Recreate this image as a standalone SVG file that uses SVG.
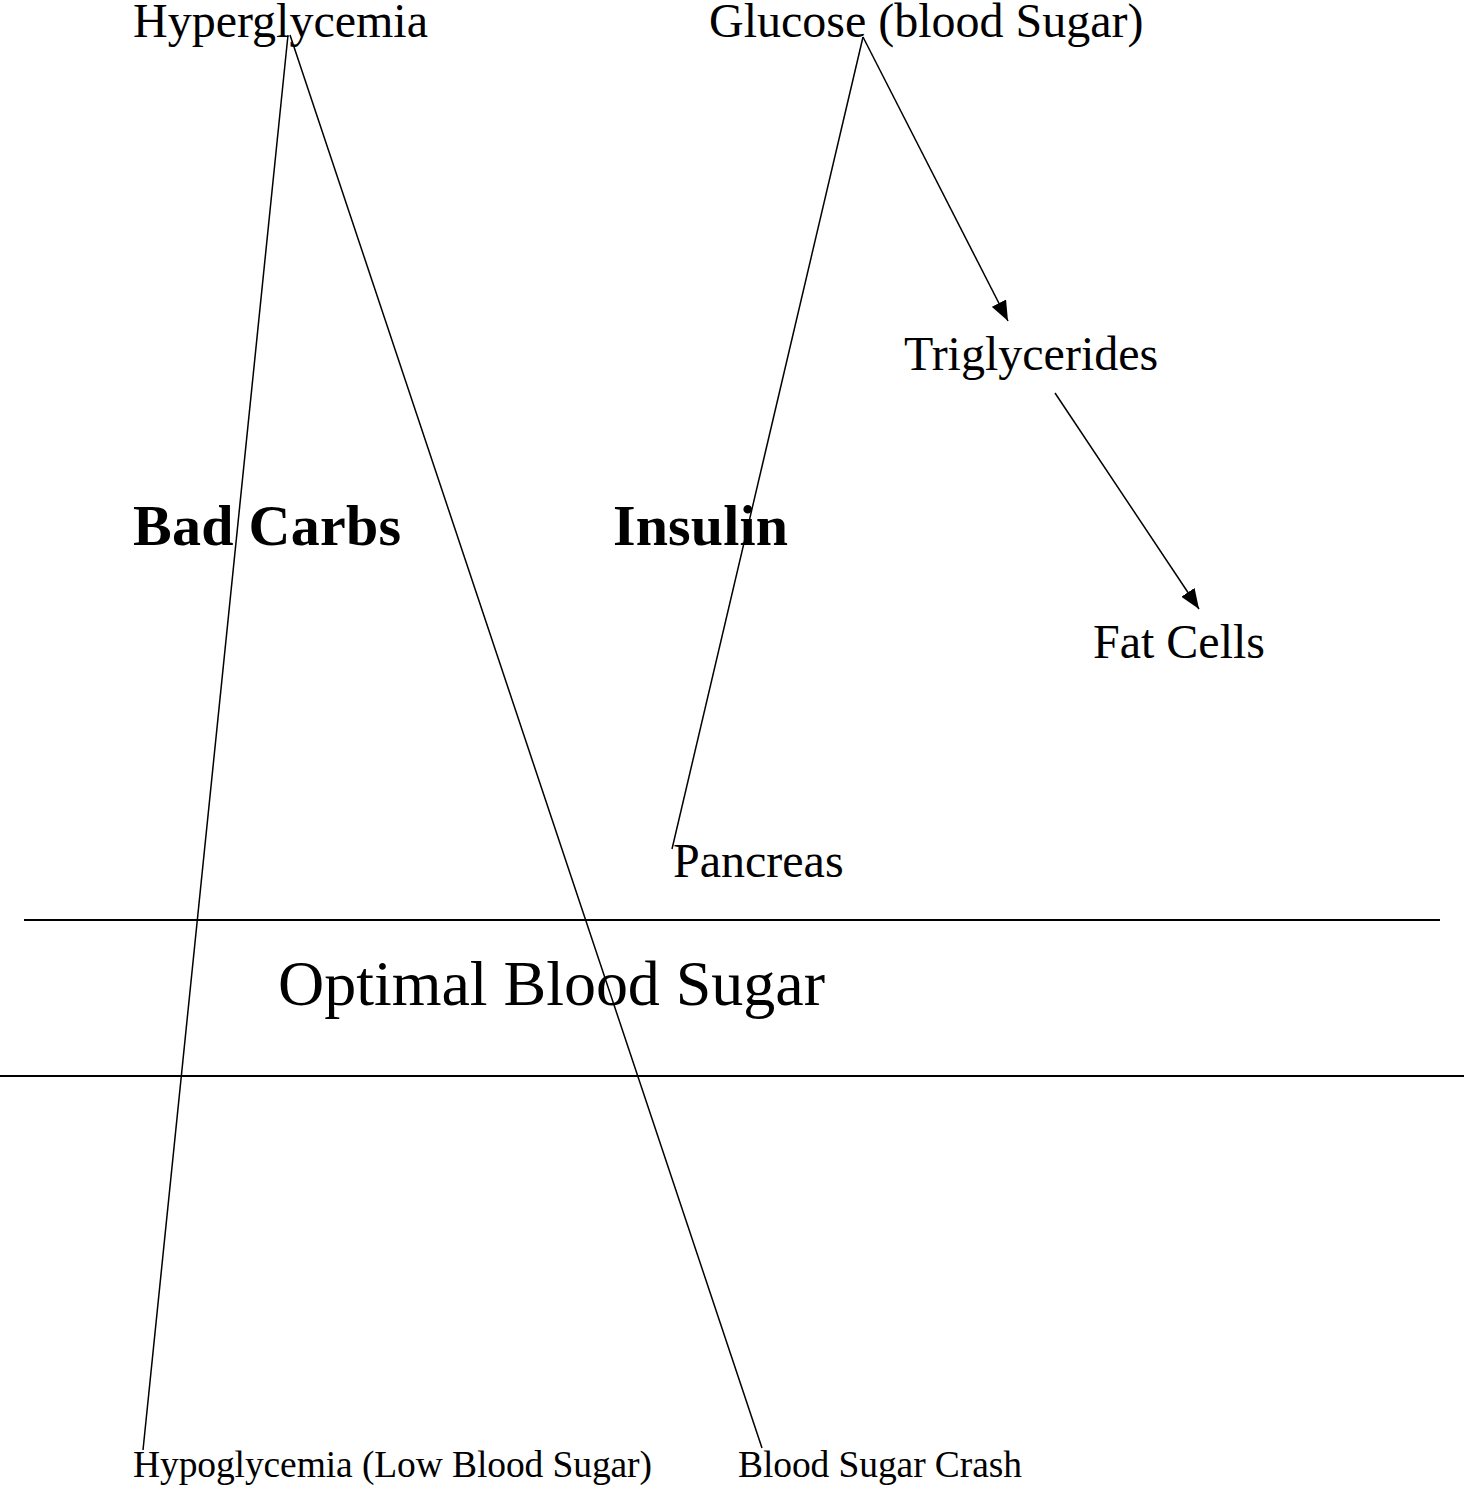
<svg xmlns="http://www.w3.org/2000/svg" width="1464" height="1486" viewBox="0 0 1464 1486" font-family="'Liberation Serif', serif">
<style>
.n{font-size:48px}
.b{font-size:58px;font-weight:bold}
.s{font-size:37.5px}
.c line{stroke:#000;stroke-width:1.5;fill:none}
.h{stroke:#000;stroke-width:2}
</style>
<defs>
<marker id="ah" viewBox="0 0 20 16" refX="20" refY="8" markerWidth="20" markerHeight="16" markerUnits="userSpaceOnUse" orient="auto">
<path d="M0,0 L20,8 L0,16 z" fill="#000"/>
</marker>
</defs>
<rect width="1464" height="1486" fill="#fff"/>
<g id="bands">
<line class="h" x1="24" y1="920" x2="1440" y2="920"/>
<line class="h" x1="0" y1="1076" x2="1464" y2="1076"/>
</g>
<g class="c" id="connectors">
<line x1="288" y1="35" x2="143" y2="1450"/>
<line x1="290" y1="35" x2="762" y2="1448"/>
<line x1="863" y1="37" x2="672" y2="849"/>
<line x1="863" y1="37" x2="1008" y2="321" marker-end="url(#ah)"/>
<line x1="1055" y1="393" x2="1199" y2="609" marker-end="url(#ah)"/>
</g>
<g id="hyperglycemia"><text class="n" font-family="Liberation Serif" x="133" y="37">Hyperglycemia</text></g>
<g id="glucose"><text class="n" font-family="Liberation Serif" x="709" y="37">Glucose (blood Sugar)</text></g>
<g id="triglycerides"><text class="n" font-family="Liberation Serif" x="904" y="370">Triglycerides</text></g>
<g id="bad-carbs"><text class="b" font-family="Liberation Serif" x="133" y="545" textLength="268">Bad Carbs</text></g>
<g id="insulin"><text class="b" font-family="Liberation Serif" x="613" y="545" textLength="175">Insulin</text></g>
<g id="fat-cells"><text class="n" font-family="Liberation Serif" x="1093" y="658">Fat Cells</text></g>
<g id="pancreas"><text class="n" font-family="Liberation Serif" x="673" y="877">Pancreas</text></g>
<g id="optimal"><text font-family="Liberation Serif" x="278" y="1005" style="font-size:64px" textLength="547">Optimal Blood Sugar</text></g>
<g id="hypoglycemia"><text class="s" font-family="Liberation Serif" x="133" y="1477" textLength="519">Hypoglycemia (Low Blood Sugar)</text></g>
<g id="crash"><text class="s" font-family="Liberation Serif" x="738" y="1477" textLength="284">Blood Sugar Crash</text></g>
</svg>
